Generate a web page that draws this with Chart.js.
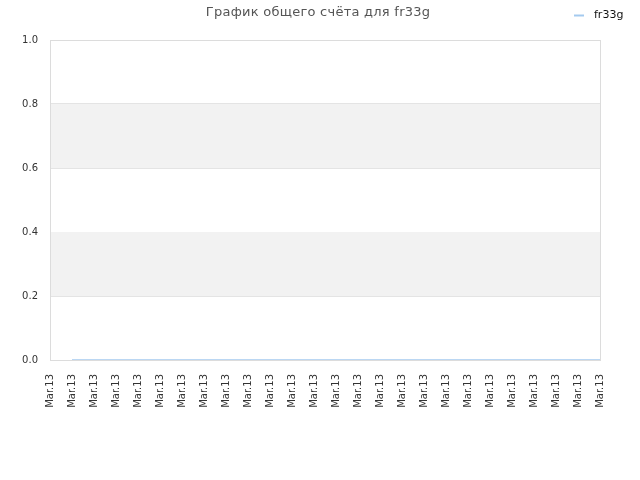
<!DOCTYPE html>
<html>
<head>
<meta charset="utf-8">
<script src="https://cdn.jsdelivr.net/npm/chart.js@4/dist/chart.umd.min.js"></script>
<style>
  html, body { margin: 0; padding: 0; background: #fff; }
  #wrap { width: 640px; height: 480px; }
</style>
</head>
<body>
<div id="wrap"><canvas id="chart-score"></canvas></div>
<script>
// data
var labels = ['Mar.13', 'Mar.13', 'Mar.13', 'Mar.13', 'Mar.13', 'Mar.13', 'Mar.13',
  'Mar.13', 'Mar.13', 'Mar.13', 'Mar.13', 'Mar.13', 'Mar.13', 'Mar.13', 'Mar.13',
  'Mar.13', 'Mar.13', 'Mar.13', 'Mar.13', 'Mar.13', 'Mar.13', 'Mar.13', 'Mar.13',
  'Mar.13', 'Mar.13', 'Mar.13'];
var scores = [null, 0, 0, 0, 0, 0, 0, 0, 0, 0, 0, 0, 0, 0, 0, 0, 0, 0, 0, 0, 0, 0, 0, 0, 0, 0];
var seriesName = 'fr33g';
var titleText = 'График общего счёта для fr33g';
var bandRanges = [[0.2, 0.4], [0.6, 0.8]];

var lineColor = '#a4caef';

//grey bands, box border, title and legend
var decorations = {
  id: 'decorations',
  beforeDatasetsDraw: function(chart) {
    var ctx = chart.ctx;
    var area = chart.chartArea;
    var y = chart.scales.y;
    ctx.save();
    ctx.fillStyle = '#f2f2f2';
    for (var i = 0; i < bandRanges.length; i++) {
      var top = y.getPixelForValue(bandRanges[i][1]);
      var bot = y.getPixelForValue(bandRanges[i][0]);
      ctx.fillRect(area.left, top, area.right - area.left, bot - top);
    }
    ctx.restore();
  },
  afterDraw: function(chart) {
    var ctx = chart.ctx;
    var area = chart.chartArea;
    ctx.save();
    ctx.strokeStyle = '#dcdcdc';
    ctx.lineWidth = 1;
    ctx.strokeRect(Math.round(area.left) + 0.5, Math.round(area.top) + 0.5,
      Math.round(area.right - area.left), Math.round(area.bottom - area.top));

    ctx.fillStyle = '#555';
    ctx.font = '13px "DejaVu Sans"';
    ctx.textAlign = 'center';
    ctx.textBaseline = 'middle';
    if ('letterSpacing' in ctx) ctx.letterSpacing = '0.25px';
    ctx.fillText(titleText, 318, 13);
    if ('letterSpacing' in ctx) ctx.letterSpacing = '0px';

    ctx.strokeStyle = lineColor;
    ctx.lineWidth = 2;
    ctx.beginPath();
    ctx.moveTo(574, 15.5);
    ctx.lineTo(584, 15.5);
    ctx.stroke();
    ctx.fillStyle = '#111';
    ctx.font = '11px "DejaVu Sans"';
    ctx.textAlign = 'left';
    ctx.fillText(seriesName, 594, 15);
    ctx.restore();
  }
};

new Chart(document.getElementById('chart-score'), {
  type: 'line',
  data: {
    labels: labels,
    datasets: [{
      label: seriesName,
      data: scores,
      borderColor: lineColor,
      borderWidth: 1.5,
      pointRadius: 0,
      fill: false,
      tension: 0
    }]
  },
  options: {
    responsive: true,
    maintainAspectRatio: false,
    animation: false,
    layout: { padding: { top: 40, right: 40, bottom: 0, left: 0 } },
    plugins: {
      legend: { display: false },
      title: { display: false },
      tooltip: { enabled: false }
    },
    scales: {
      x: {
        offset: false,
        grid: { display: false },
        border: { display: false },
        ticks: {
          autoSkip: false,
          maxRotation: 90,
          minRotation: 90,
          color: '#333',
          padding: 6,
          font: { family: 'DejaVu Sans', size: 10 }
        },
        afterFit: function(scale) { scale.height = 120; }
      },
      y: {
        min: 0,
        max: 1,
        grid: { color: '#e4e4e4', drawTicks: false },
        border: { display: false },
        ticks: {
          stepSize: 0.2,
          color: '#333',
          padding: 12,
          font: { family: 'DejaVu Sans', size: 10 },
          callback: function(v) { return v.toFixed(1); }
        },
        afterFit: function(scale) { scale.width = 50; }
      }
    }
  },
  plugins: [decorations]
});
</script>
</body>
</html>
